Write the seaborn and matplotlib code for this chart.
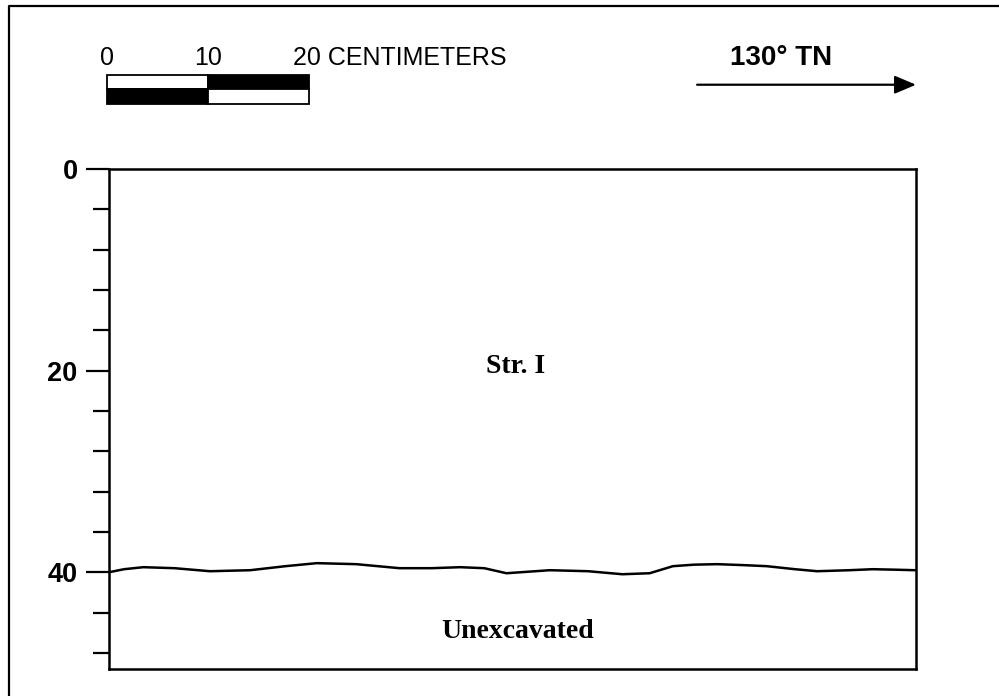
import numpy as np
import pandas as pd
import matplotlib
matplotlib.use('Agg')
import matplotlib.pyplot as plt
from matplotlib.lines import Line2D
from matplotlib.patches import Rectangle
import seaborn as sns

# boundary between Str. I and unexcavated (distance cm, depth cm)
boundary_x = [0.0, 1.5, 3.4, 6.5, 10.0, 14.0, 17.5, 20.6, 24.5, 28.8, 32.0, 34.8,
              37.2, 39.4, 43.7, 47.5, 50.9, 53.6, 55.9, 58.0, 60.3, 63.0, 65.2,
              68.0, 70.2, 73.4, 75.7, 78.0, 79.9]
boundary_y = [40.0, 39.7, 39.5, 39.6, 39.9, 39.8, 39.4, 39.1, 39.2, 39.6, 39.6, 39.5,
              39.6, 40.1, 39.8, 39.9, 40.2, 40.1, 39.4, 39.25, 39.2, 39.3, 39.4,
              39.7, 39.9, 39.8, 39.7, 39.75, 39.8]

major_depths = [0, 20, 40]
minor_depths = [4, 8, 12, 16, 24, 28, 32, 36, 44, 48]

scale_marks = [0, 10, 20]
layer_labels = ["Str. I", "Unexcavated"]
layer_pos = [(40.3, 19.6), (40.5, 45.9)]

sns.set_style("white")
plt.rcParams['font.family'] = ['Liberation Sans', 'DejaVu Sans']
plt.rcParams['text.color'] = 'black'
plt.rcParams['ytick.color'] = 'black'
plt.rcParams['ytick.labelcolor'] = 'black'

fig = plt.figure(figsize=(9.99, 6.96), dpi=100)
ax = fig.add_axes([109 / 999, 1 - 669 / 696, (916 - 109) / 999, (669 - 169) / 696])

df = pd.DataFrame({"x": boundary_x, "depth": boundary_y})
sns.lineplot(data=df, x="x", y="depth", ax=ax, color="black", linewidth=1.8, sort=False)

ax.set_xlim(0, 80)
ax.set_ylim(49.6, 0)
ax.set_xlabel("")
ax.set_ylabel("")
ax.set_xticks([])
ax.set_yticks(major_depths)
ax.set_yticks(minor_depths, minor=True)
ax.set_yticklabels([str(d) for d in major_depths], fontsize=19.5, fontweight="bold",
                   color="black")
ax.tick_params(axis="y", which="major", direction="out", length=16.5, width=1.6,
               color="black", left=True, pad=6)
ax.tick_params(axis="y", which="minor", direction="out", length=11.5, width=1.6,
               color="black", left=True)
for sp in ax.spines.values():
    sp.set_color("black")
    sp.set_linewidth(1.8)

# layer labels
for lab, (lx, ly) in zip(layer_labels, layer_pos):
    ax.text(lx, ly, lab, ha="center", va="center", fontsize=20, fontweight="bold",
            color="black", family=["Liberation Serif", "DejaVu Serif"])

# scale bar
y_top, y_mid, y_bot = -9.35, -7.96, -6.47
x0 = -0.2
for i in range(2):
    xa = x0 + scale_marks[i]
    w = scale_marks[i + 1] - scale_marks[i]
    top_fc = "white" if i == 0 else "black"
    bot_fc = "black" if i == 0 else "white"
    ax.add_patch(Rectangle((xa, y_mid), w, y_top - y_mid, facecolor=top_fc,
                           edgecolor="black", linewidth=1.3, clip_on=False))
    ax.add_patch(Rectangle((xa, y_bot), w, y_mid - y_bot, facecolor=bot_fc,
                           edgecolor="black", linewidth=1.3, clip_on=False))
ax.text(x0 + scale_marks[0], -10.3, "0", ha="center", va="baseline", fontsize=18)
ax.text(x0 + scale_marks[1], -10.3, "10", ha="center", va="baseline", fontsize=18)
ax.text(18.2, -10.3, "20 CENTIMETERS", ha="left", va="baseline", fontsize=18)

# orientation arrow
ax.annotate("", xy=(80.0, -8.36), xytext=(58.3, -8.36), annotation_clip=False,
            arrowprops=dict(arrowstyle="-|>,head_length=1.3,head_width=0.55",
                            color="black", linewidth=1.6, shrinkA=0, shrinkB=0))
ax.text(61.6, -10.3, "130° TN", ha="left", va="baseline", fontsize=20, fontweight="bold")

# outer frame (top and left only)
fig.add_artist(Line2D([8.5 / 999, 8.5 / 999, 1.0], [0.0, 1 - 5.5 / 696, 1 - 5.5 / 696],
                      transform=fig.transFigure, color="black", linewidth=1.6))

fig.savefig("out.png", dpi=100, facecolor="white")
